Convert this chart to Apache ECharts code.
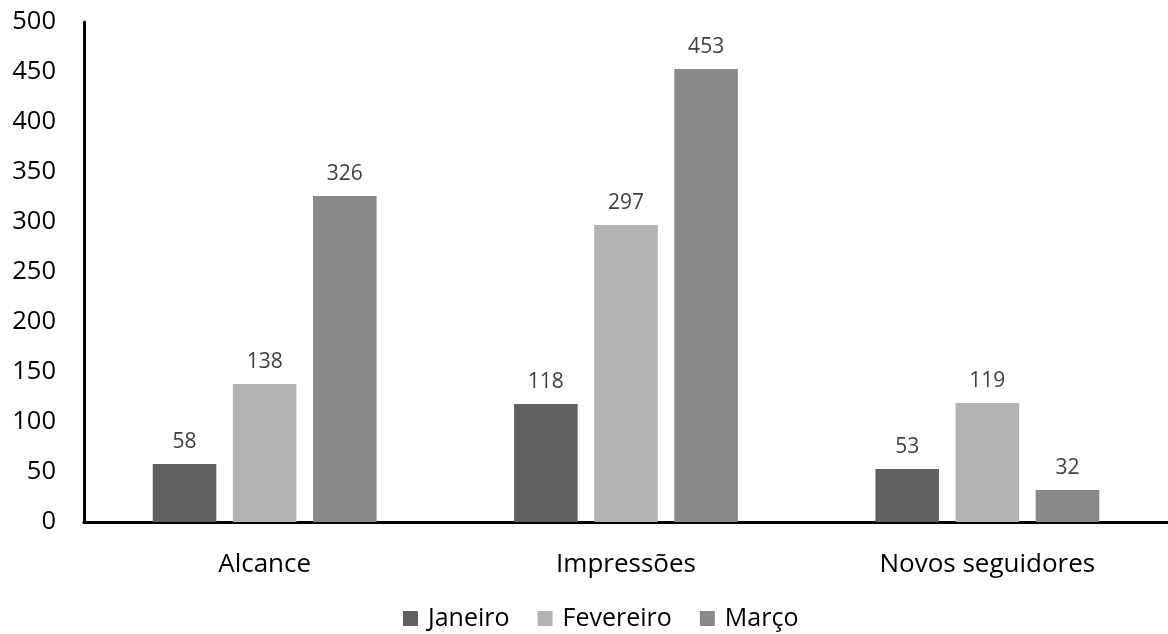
<!DOCTYPE html>
<html><head><meta charset="utf-8">
<script src="https://cdn.jsdelivr.net/npm/echarts@6/dist/echarts.min.js"></script>
<style>html,body{margin:0;padding:0;background:#fff}#c{width:1168px;height:634px}</style>
</head><body><div id="c"></div>
<script>
const categories = ['Alcance', 'Impressões', 'Novos seguidores'];
const seriesNames = ['Janeiro', 'Fevereiro', 'Março'];
const janeiro = [58, 118, 53];
const fevereiro = [138, 297, 119];
const marco = [326, 453, 32];
const colors = ['#606060', '#b2b2b2', '#898989'];
const font = 'Open Sans';
const chart = echarts.init(document.getElementById('c'));
const data = [janeiro, fevereiro, marco];
chart.setOption({
  animation: false,
  grid: {left: 84, width: 1090, top: 22, bottom: 112, containLabel: false},
  legend: {
    top: 606, left: 403, padding: 0, itemWidth: 15, itemHeight: 15, itemGap: 28,
    icon: 'rect',
    textStyle: {fontFamily: font, fontSize: 25, color: '#000', padding: [0,0,0,5]},
    data: seriesNames
  },
  xAxis: {
    type: 'category', data: categories,
    axisLine: {lineStyle: {color: '#000', width: 3}},
    axisTick: {show: false},
    axisLabel: {fontFamily: font, fontSize: 26, color: '#000', margin: 30}
  },
  yAxis: {
    type: 'value', min: 0, max: 500, interval: 50,
    axisLine: {show: true, lineStyle: {color: '#000', width: 3}},
    axisTick: {show: false},
    splitLine: {show: false},
    axisLabel: {fontFamily: font, fontSize: 25.5, color: '#000', margin: 28}
  },
  series: seriesNames.map((n, i) => ({
    name: n, type: 'bar', data: data[i],
    barWidth: '17.6%', barGap: '26%',
    itemStyle: {color: colors[i]},
    label: {show: true, position: 'top', distance: 11, fontFamily: font, fontSize: 21, color: '#404040'}
  }))
});
</script></body></html>
